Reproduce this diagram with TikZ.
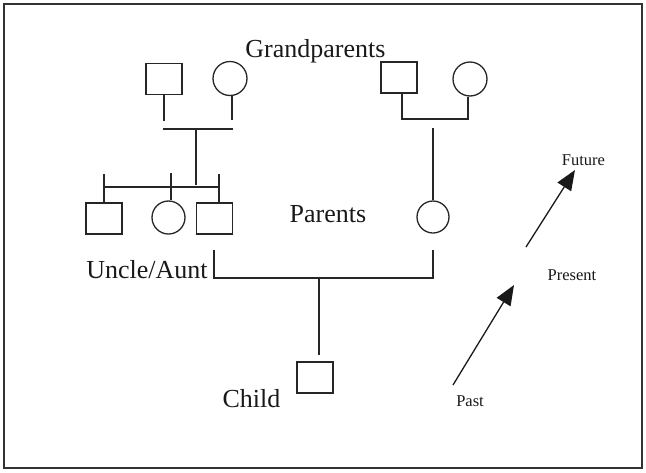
\documentclass[tikz,border=0pt]{standalone}
\usepackage{fontspec}
\setmainfont{Liberation Serif}
\usetikzlibrary{arrows.meta}
\begin{document}
\begin{tikzpicture}[x=1pt,y=-1pt,
  line width=1.3pt, draw=black!85,
  male/.style={draw, rectangle, inner sep=0pt, minimum width=36pt, minimum height=31pt},
  female/.style={draw, circle, inner sep=0pt, minimum size=34pt},
  biglabel/.style={anchor=base, inner sep=0pt, text=black!90, font=\fontsize{26}{30}\selectfont},
  smalllabel/.style={anchor=base, inner sep=0pt, text=black!90, font=\fontsize{16.5}{19}\selectfont},
  timearrow/.style={draw=black!90, line width=1.3pt, -{Triangle[length=20pt,width=16pt]}}]
\useasboundingbox (0,0) rectangle (646,472);
\draw[line width=2pt, black!80] (4,4) rectangle (642,468);

% grandparents, left couple
\node[male]   (gm1) at (164,79) {};
\node[female] (gf1) at (230,78.5) {};
% grandparents, right couple
\node[male]   (gm2) at (399,77.5) {};
\node[female] (gf2) at (470,79) {};

% uncle/aunt generation
\node[male]   (s1) at (104,218.5) {};
\node[female, minimum size=33pt] (s2) at (168.5,217.5) {};
\node[male]   (s3) at (214.5,218.5) {};
\node[female, minimum size=32pt] (mo) at (433,217) {};

% child
\node[male] (ch) at (315,377.5) {};

% labels
\node[biglabel] (tg) at (315.5,57) {Grandparents};
\node[biglabel] (tp) at (328,222) {Parents};
\node[biglabel] (tu) at (147,278) {Uncle/Aunt};
\node[biglabel] (tc) at (251.5,407) {Child};
\node[smalllabel] (tf) at (583.5,165) {Future};
\node[smalllabel] (tn) at (572,280) {Present};
\node[smalllabel] (tpa) at (470,406) {Past};

% left grandparents and their children
\coordinate (lbar) at (196,129);
\draw (gm1.south) -- ++(0,26);
\draw (gf1.south) ++(2,0) -- ++(0,24);
\draw (163,129) -- (233,129);
\draw (lbar) -- (196,185);
\draw (104,187) -- (219,187);
\draw (s1.north) -- ++(0,-28);
\draw ([xshift=2.5pt]s2.north) -- ++(0,-27);
\draw ([xshift=4.5pt]s3.north) -- ++(0,-28);

% right grandparents and the mother
\draw ([xshift=3pt]gm2.south) -- (402,119) -- (468,119) -- ([xshift=-2pt]gf2.south);
\coordinate (rtop) at (433,128);
\draw (rtop) -- (mo.north);

% parents' union and the child
\coordinate (pl) at (214,250);
\coordinate (pr) at (433,250);
\draw (pl) -- (214,278) -- (433,278) -- (pr);
\coordinate (pc) at (319,278);
\draw (pc) -- (319,355);

% time arrows
\coordinate (a1s) at (453,385);
\coordinate (a1e) at (514,285);
\coordinate (a2s) at (526,247);
\coordinate (a2e) at (575,170);
\draw[timearrow] (a1s) -- (a1e);
\draw[timearrow] (a2s) -- (a2e);
\end{tikzpicture}
\end{document}
